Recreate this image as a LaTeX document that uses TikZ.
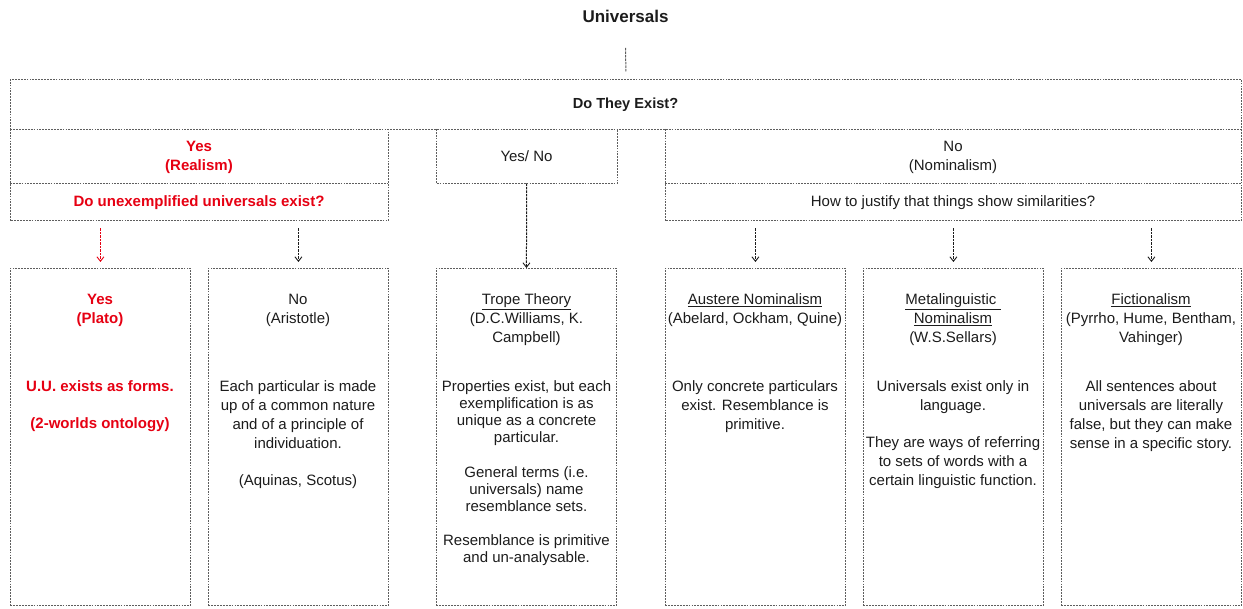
\documentclass[tikz,border=0pt]{standalone}
\usepackage{fontspec}
\setmainfont{Liberation Sans}
\usetikzlibrary{arrows.meta}
\definecolor{ink}{HTML}{1C1C1C}
\definecolor{rim}{HTML}{5E5E5E}
\definecolor{hot}{HTML}{E60012}

\begin{document}
\begin{tikzpicture}[x=1pt,y=-1pt,
  rimline/.style={draw=rim, line width=0.85pt, dash pattern=on 1.8pt off 1.1pt},
  frame/.style={rimline, inner sep=0pt, anchor=north west},
  slot/.style={inner sep=0pt, anchor=north west},
  % multi-line texts are placed by the baseline of their last line
  txt/.style={font=\fontsize{15}{19}\selectfont, text=ink, align=center,
    anchor=base, inner sep=0pt},
  hottxt/.style={txt, text=hot, font=\fontsize{15}{19}\selectfont\bfseries},
  tight/.style={font=\fontsize{15}{17}\selectfont},
  link/.style={draw=ink, line width=1pt, dash pattern=on 2.5pt off 1pt,
    -{Straight Barb[length=4.5pt,width=7pt,line width=0.9pt]}},
  hotlink/.style={link, draw=hot},
]
\useasboundingbox (0,0) rectangle (1243,609);

% title and first question
\node[txt, font=\fontsize{17}{19}\selectfont\bfseries] (title) at (625.5,23) {Universals};
\node[frame, minimum width=1231pt, minimum height=50pt] (exist) at (10,79) {};
\node[txt, font=\fontsize{14.6}{19}\selectfont\bfseries] (existq) at (625.5,108.5) {Do They Exist?};
\draw[rimline, line width=1pt, dash pattern=on 2.5pt off 1pt]
  ([yshift=-25pt]title.base) -- ([yshift=7pt]exist.north);

% second row: the three answers, hanging from the box above
\node[slot, minimum width=378pt, minimum height=91pt] (real) at (10,129) {};
\node[slot, minimum width=181pt, minimum height=54pt] (yn) at (436,129) {};
\node[slot, minimum width=576pt, minimum height=91pt] (nom) at (665,129) {};
\foreach \b in {real, yn, nom}
  \draw[rimline] (\b.north west) -- (\b.south west) -- (\b.south east) -- (\b.north east);
\draw[rimline] ([yshift=-54pt]real.north west) -- ([yshift=-54pt]real.north east);
\draw[rimline] ([yshift=-54pt]nom.north west) -- ([yshift=-54pt]nom.north east);

\node[hottxt] at (199,170.5) {Yes\\(Realism)};
\node[hottxt] (realq) at (199,206.5) {Do unexemplified universals exist?};
\node[txt] at (526.5,161.5) {Yes/ No};
\node[txt] at (953,170.5) {No\\(Nominalism)};
\node[txt] (nomq) at (953,206.5) {How to justify that things show similarities?};

% third row: the positions
\foreach \n/\x in {plato/10, arist/208, trope/436, auster/665, meta/863, fict/1061}
  \node[frame, minimum width=180pt, minimum height=337pt] (\n) at (\x,268) {};

\node[hottxt] at (100,323.5) {Yes\\(Plato)};
\node[hottxt] at (100,428.5) {U.U. exists as forms.\\[18pt](2-worlds ontology)};

\node[txt] at (298,323.5) {No\\(Aristotle)};
\node[txt] at (298,485.5) {Each particular is made\\up of a common nature\\and of a principle of\\individuation.\\[18pt](Aquinas, Scotus)};

\node[txt] at (526.5,342.5) {\underline{Trope Theory}\\(D.C.Williams, K.\\Campbell)};
\node[txt, tight] at (526.5,562.5) {Properties exist, but each\\exemplification is as\\unique as a concrete\\particular.\\[18pt]General terms (i.e.\\universals) name\\resemblance sets.\\[17pt]Resemblance is primitive\\and un-analysable.};

\node[txt] at (755,323.5) {\underline{Austere Nominalism}\\(Abelard, Ockham, Quine)};
\node[txt] at (755,429.5) {Only concrete particulars\\exist. Resemblance is\\primitive.};

\node[txt] at (953,342.5) {\underline{Metalinguistic\ }\\\underline{Nominalism}\\(W.S.Sellars)};
\node[txt] at (953,485.5) {Universals exist only in\\language.\\[18pt]They are ways of referring\\to sets of words with a\\certain linguistic function.};

\node[txt] at (1151,342.5) {\underline{Fictionalism}\\(Pyrrho, Hume, Bentham,\\Vahinger)};
\node[txt] at (1151,448.5) {All sentences about\\universals are literally\\false, but they can make\\sense in a specific story.};

% connectors
\draw[hotlink] ([yshift=-8pt]real.south -| plato.north) -- ([yshift=6pt]plato.north);
\draw[link] ([yshift=-8pt]real.south -| arist.north) -- ([yshift=6pt]arist.north);
\draw[link] (yn.south) -- (trope.north);
\draw[link] ([yshift=-8pt]nom.south -| auster.north) -- ([yshift=6pt]auster.north);
\draw[link] ([yshift=-8pt]nom.south -| meta.north) -- ([yshift=6pt]meta.north);
\draw[link] ([yshift=-8pt]nom.south -| fict.north) -- ([yshift=6pt]fict.north);
\end{tikzpicture}
\end{document}
